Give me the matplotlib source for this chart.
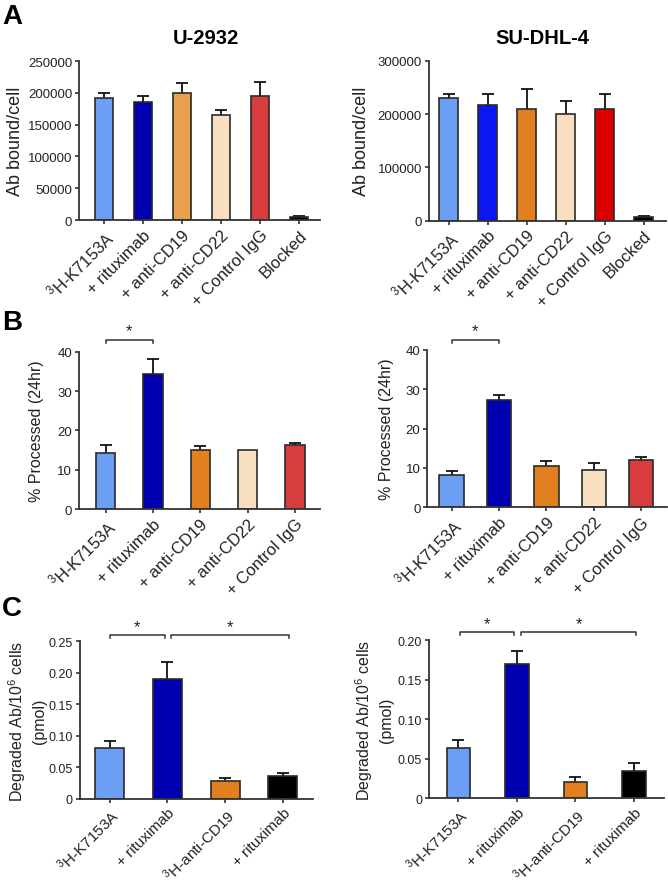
# 抗体结合 / 处理 / 降解 柱状图 (A, B, C 三组, U-2932 与 SU-DHL-4)
import numpy as np
import matplotlib
matplotlib.use('Agg')
import matplotlib.pyplot as plt

plt.rcParams['font.family'] = ['Liberation Sans', 'DejaVu Sans']
plt.rcParams['mathtext.fontset'] = 'custom'
plt.rcParams['mathtext.rm'] = 'Liberation Sans'
plt.rcParams['mathtext.it'] = 'Liberation Sans:italic'
plt.rcParams['mathtext.bf'] = 'Liberation Sans:bold'

# 类别标签
labels_a = [r'$^{3}$H-K7153A', '+ rituximab', '+ anti-CD19', '+ anti-CD22',
            '+ Control IgG', 'Blocked']
labels_b = labels_a[:5]
labels_c = [r'$^{3}$H-K7153A', '+ rituximab', r'$^{3}$H-anti-CD19', '+ rituximab']

# A: Ab bound/cell
a_u2932 = [191500, 185000, 200000, 165300, 195000, 4200]
a_u2932_err = [7800, 10000, 15500, 7300, 22500, 2500]
a_sudhl4 = [231000, 217500, 208700, 199400, 210000, 6300]
a_sudhl4_err = [6500, 20500, 38000, 25600, 27500, 3100]

# B: % Processed (24hr)
b_u2932 = [14.2, 34.4, 15.0, 15.0, 16.3]
b_u2932_err = [2.1, 3.7, 1.1, 0, 0.6]
b_sudhl4 = [8.3, 27.3, 10.5, 9.5, 12.1]
b_sudhl4_err = [0.9, 1.2, 1.2, 1.7, 0.75]

# C: Degraded Ab/10^6 cells (pmol)
c_u2932 = [0.081, 0.190, 0.028, 0.0353]
c_u2932_err = [0.011, 0.027, 0.004, 0.0052]
c_sudhl4 = [0.0634, 0.1694, 0.0206, 0.0349]
c_sudhl4_err = [0.0106, 0.0172, 0.0059, 0.0096]

# 刻度
ticks_a1 = [0, 50000, 100000, 150000, 200000, 250000]
ticks_a2 = [0, 100000, 200000, 300000]
ticks_b = [0, 10, 20, 30, 40]
ticks_c1 = [0, 0.05, 0.10, 0.15, 0.20, 0.25]
ticklabels_c1 = ['0', '0.05', '0.10', '0.15', '0.20', '0.25']
ticks_c2 = [0, 0.05, 0.10, 0.15, 0.20]
ticklabels_c2 = ['0', '0.05', '0.10', '0.15', '0.20']

# 颜色
light_blue = '#6c9ff4'
navy = '#0000b0'
bright_blue = '#0b16f2'
orange_light = '#e9a04d'
orange = '#e2801f'
beige = '#f7dfc0'
red_soft = '#d83d3d'
red = '#dc0000'
black = '#000000'

cols_a1 = [light_blue, navy, orange_light, beige, red_soft, black]
cols_a2 = [light_blue, bright_blue, orange, beige, red, black]
cols_b = [light_blue, navy, orange, beige, red_soft]
cols_c = [light_blue, navy, orange, black]

EDGE = '#2a2a2a'


def bar_panel(rect, labels, vals, errs, colors, width, xlim, yticks, yticklabels,
              ylabel, ylabel_x, ylabel_size, ytick_size, xtick_size=12):
    """画一个柱状图面板"""
    ax = fig.add_axes(rect)
    x = np.arange(len(vals))
    ax.bar(x, vals, width=width, color=colors, edgecolor=EDGE, linewidth=1.2, zorder=2)
    for xi, v, e in zip(x, vals, errs):
        if e <= 0:
            continue
        _, caps, _ = ax.errorbar(xi, v, yerr=[[0], [e]], fmt='none', ecolor='#111',
                                 elinewidth=1.3, capsize=4.5, capthick=1.3, zorder=1)
        caps[0].set_visible(False)
    ax.set_xlim(*xlim)
    ax.set_ylim(0, yticks[-1])
    ax.set_yticks(yticks)
    ax.set_yticklabels(yticklabels, fontsize=ytick_size, color='#222')
    ax.set_xticks(x)
    ax.set_xticklabels(labels, rotation=45, ha='right', va='top',
                       rotation_mode='anchor', fontsize=xtick_size, color='#222')
    ax.tick_params(axis='both', direction='out', length=3, width=1.2, color='#333', pad=2)
    for s in ['top', 'right']:
        ax.spines[s].set_visible(False)
    for s in ['left', 'bottom']:
        ax.spines[s].set_linewidth(1.3)
        ax.spines[s].set_color('#333')
    ax.set_ylabel(ylabel, fontsize=ylabel_size, color='#222', linespacing=1.3)
    ax.yaxis.set_label_coords(ylabel_x, 0.5)
    return ax


def bracket(ax, x1, x2, y, h, star_y):
    ax.plot([x1, x1, x2, x2], [y - h, y, y, y - h], color='#333', lw=1.1, clip_on=False)
    ax.text((x1 + x2) / 2, star_y, '*', ha='center', va='center', fontsize=12,
            color='#222')


fig = plt.figure(figsize=(6.68, 8.87), dpi=100)

# A
bar_panel([0.1183, 0.7508, 0.3608, 0.1793], labels_a, a_u2932, a_u2932_err, cols_a1,
          0.47, (-0.64, 5.54), ticks_a1, [str(t) for t in ticks_a1],
          'Ab bound/cell', -0.23, 13, 9.5)
bar_panel([0.6422, 0.7500, 0.3548, 0.1804], labels_a, a_sudhl4, a_sudhl4_err, cols_a2,
          0.48, (-0.5, 5.57), ticks_a2, [str(t) for t in ticks_a2],
          'Ab bound/cell', -0.25, 13, 9.5)

# B
axb1 = bar_panel([0.1183, 0.4250, 0.3608, 0.1773], labels_b, b_u2932, b_u2932_err, cols_b,
                 0.41, (-0.56, 4.53), ticks_b, [str(t) for t in ticks_b],
                 '% Processed (24hr)', -0.145, 11.5, 9.5)
bracket(axb1, 0, 1, 43.0, 0.8, 45.3)
axb2 = bar_panel([0.6397, 0.4269, 0.3588, 0.1777], labels_b, b_sudhl4, b_sudhl4_err, cols_b,
                 0.51, (-0.51, 4.54), ticks_b, [str(t) for t in ticks_b],
                 '% Processed (24hr)', -0.14, 11.5, 9.5)
bracket(axb2, 0, 1, 42.5, 0.8, 44.8)

# C
axc1 = bar_panel([0.1193, 0.0985, 0.3492, 0.1775], labels_c, c_u2932, c_u2932_err, cols_c,
                 0.5, (-0.52, 3.52), ticks_c1, ticklabels_c1,
                 'Degraded Ab/10$^{6}$ cells\n(pmol)', -0.14, 11.5, 9, 11)
bracket(axc1, 0, 0.96, 0.2595, 0.005, 0.2735)
bracket(axc1, 1.07, 3.1, 0.2595, 0.005, 0.2735)
axc2 = bar_panel([0.6422, 0.0988, 0.3518, 0.1783], labels_c, c_sudhl4, c_sudhl4_err, cols_c,
                 0.4, (-0.5, 3.51), ticks_c2, ticklabels_c2,
                 'Degraded Ab/10$^{6}$ cells\n(pmol)', -0.15, 11.5, 9, 11)
bracket(axc2, 0.03, 0.95, 0.2106, 0.004, 0.2215)
bracket(axc2, 1.07, 3.04, 0.2106, 0.004, 0.2215)

# 标题与面板字母
fig.text(206 / 668, 1 - 38 / 887, 'U-2932', ha='center', va='center',
         fontsize=14.5, fontweight='bold')
fig.text(542 / 668, 1 - 38 / 887, 'SU-DHL-4', ha='center', va='center',
         fontsize=14.5, fontweight='bold')
for letter, ytop in [('A', 4), ('B', 310), ('C', 596)]:
    fig.text(2 / 668, 1 - ytop / 887, letter, ha='left', va='top',
             fontsize=20, fontweight='bold')

fig.savefig('out.png', dpi=100)
